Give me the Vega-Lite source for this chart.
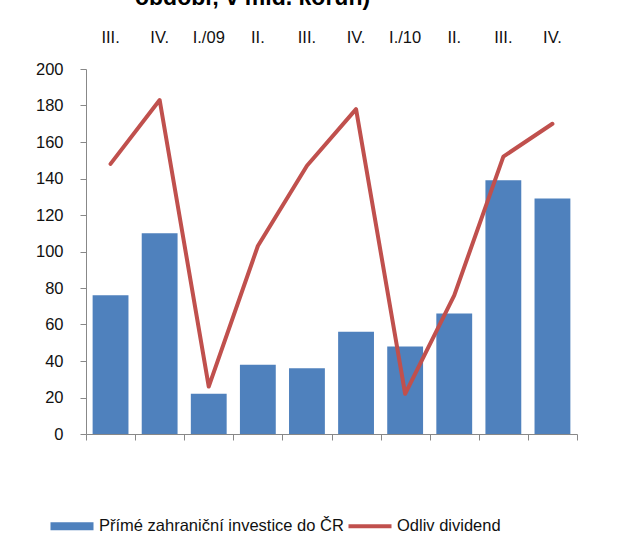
{
  "$schema": "https://vega.github.io/schema/vega-lite/v6.json",
  "width": 491,
  "height": 365,
  "autosize": "none",
  "padding": {"left": 86, "top": 69, "right": 52, "bottom": 115},
  "background": "white",
  "title": {"text": "období; v mld. korun)", "anchor": "start", "frame": "group", "dx": 49, "offset": 19, "fontSize": 23, "font": "Liberation Sans", "fontWeight": "bold", "color": "#000000"},
  "config": {
    "view": {"stroke": null},
    "font": "Liberation Sans"
  },
  "data": {
    "values": [
      {"q": "01|III.", "fdi": 76, "div": 148},
      {"q": "02|IV.", "fdi": 110, "div": 183},
      {"q": "03|I./09", "fdi": 22, "div": 26},
      {"q": "04|II.", "fdi": 38, "div": 103},
      {"q": "05|III.", "fdi": 36, "div": 147},
      {"q": "06|IV.", "fdi": 56, "div": 178},
      {"q": "07|I./10", "fdi": 48, "div": 22},
      {"q": "08|II.", "fdi": 66, "div": 76},
      {"q": "09|III.", "fdi": 139, "div": 152},
      {"q": "10|IV.", "fdi": 129, "div": 170}
    ]
  },
  "layer": [
    {
      "mark": {"type": "bar", "width": {"band": 0.73}, "color": "#4F81BD"},
      "encoding": {
        "x": {"field": "q", "type": "ordinal", "sort": null,
          "scale": {"paddingInner": 0, "paddingOuter": 0},
          "axis": {"orient": "bottom", "title": null, "labels": false, "domainColor": "#888888", "tickColor": "#888888", "tickSize": 6, "tickBand": "extent", "domainWidth": 1, "tickWidth": 1}
        },
        "y": {"field": "fdi", "type": "quantitative",
          "scale": {"domain": [0, 200], "nice": false},
          "axis": {"title": null, "grid": false, "values": [0, 20, 40, 60, 80, 100, 120, 140, 160, 180, 200], "labelOverlap": false, "labelBound": false, "domainColor": "#888888", "tickColor": "#888888", "tickSize": 6, "labelPadding": 17, "labelFontSize": 16.5, "labelColor": "#111111", "labelFont": "Liberation Sans"}
        },
        "color": {"datum": "Přímé zahraniční investice do ČR", "type": "nominal",
          "scale": {"domain": ["Přímé zahraniční investice do ČR", "Odliv dividend"], "range": ["#4F81BD", "#C0504D"]},
          "legend": {"orient": "none", "legendX": -36, "legendY": 435, "direction": "horizontal", "title": null,
            "symbolSize": 1850, "symbolStrokeWidth": 0, "labelLimit": 0,
            "labelFontSize": 16.5, "labelFont": "Liberation Sans", "labelColor": "#111111", "labelOffset": 5, "columnPadding": 4,
            "encode": {"symbols": {"update": {
              "shape": {"signal": "datum.value === 'Odliv dividend' ? 'M-1,-0.095H1V0.095H-1Z' : 'M-1,-0.19H1V0.19H-1Z'"},
              "fill": {"scale": "color", "field": "value"},
              "fillOpacity": {"value": 1},
              "strokeWidth": {"value": 0}
            }}}
          }
        }
      }
    },
    {
      "mark": {"type": "line", "strokeWidth": 4, "strokeCap": "round", "strokeJoin": "round"},
      "encoding": {
        "x": {"field": "q", "type": "ordinal", "sort": null,
          "axis": {"orient": "top", "title": null, "domain": false, "ticks": false, "labelPadding": 24, "labelFontSize": 16.5, "labelColor": "#111111", "labelFont": "Liberation Sans", "labelAngle": 0, "labelExpr": "split(datum.label, '|')[1]"}
        },
        "y": {"field": "div", "type": "quantitative", "axis": null},
        "color": {"datum": "Odliv dividend", "type": "nominal"}
      }
    }
  ],
  "resolve": {"axis": {"x": "independent", "y": "independent"}}
}
